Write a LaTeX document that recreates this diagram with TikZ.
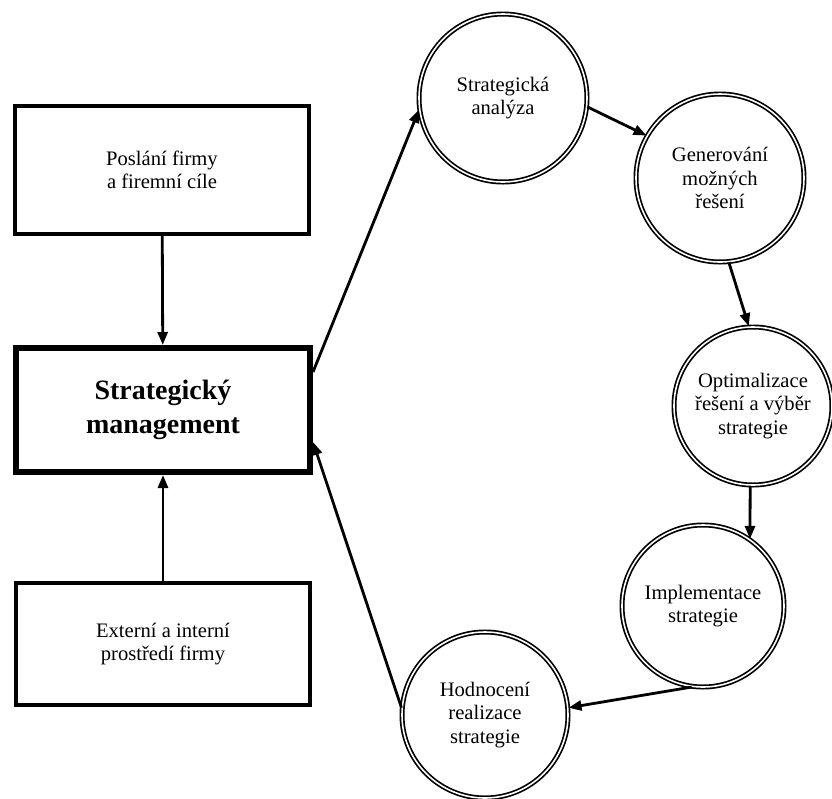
\documentclass[tikz,border=0pt]{standalone}
\usepackage{fontspec}
\setmainfont{Liberation Serif}
\usetikzlibrary{arrows.meta}
\begin{document}
\begin{tikzpicture}[x=0.5pt,y=-0.5pt,
    box/.style={draw,line width=2pt,minimum width=147pt,minimum height=64pt,
      align=center,font=\fontsize{10.3}{11.8}\selectfont},
    mainbox/.style={box,line width=3pt,minimum height=62pt,
      font=\bfseries\fontsize{14}{17}\selectfont},
    stage/.style={circle,draw,line width=0.85pt,double,double distance=0.8pt,
      align=center,inner sep=0pt,font=\fontsize{10.3}{11.8}\selectfont},
    link/.style={line width=1.4pt,-{Triangle[length=6.5pt,width=5pt]}}]
      \useasboundingbox (0,0) rectangle (832,799);
      \draw
        (162,170) node[box] (pm){Poslání firmy\\a firemní cíle}
        (163,410) node[mainbox] (sm){Strategický\\management}
        (163,644) node[box,minimum height=61pt] (ep){Externí a interní\\prostředí firmy}
        (503,98) node[stage,minimum size=84pt] (1){Strategická\\analýza}
        (720,178) node[stage,minimum size=84pt] (2){Generování\\možných\\řešení}
        (753,406) node[stage,minimum size=79pt] (3){Optimalizace\\řešení a výběr\\strategie}
        (703,606) node[stage,minimum size=81pt] (4){Implementace\\strategie}
        (485,715) node[stage,minimum size=83pt] (5){Hodnocení\\realizace\\strategie};
      \begin{scope}[link]
        \draw (pm) to (sm);
        \draw (ep) to (sm);
        \draw ([yshift=19pt]sm.east) to (1.188);
        \draw (1.354) to (2.150);
        \draw (2.276) to (3.93);
        \draw (3.268) to (4.55);
        \draw (4.262) to (5.5);
        \draw (5.175) to ([yshift=-16pt]sm.east);
      \end{scope}
    \end{tikzpicture}
\end{document}
